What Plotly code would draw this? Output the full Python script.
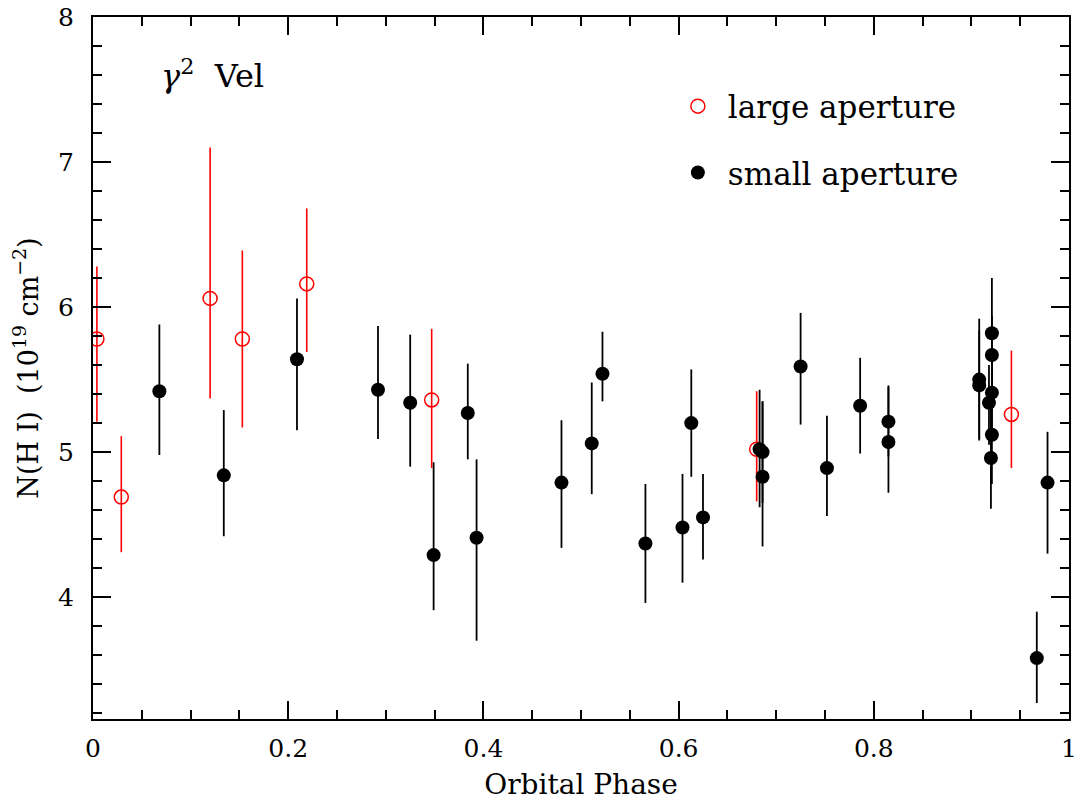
import plotly.graph_objects as go

# ---- data ----
large_phase = [0.004, 0.029, 0.120, 0.153, 0.219, 0.347, 0.680, 0.941]
large_nhi   = [5.78, 4.69, 6.06, 5.78, 6.16, 5.36, 5.02, 5.26]
large_errp  = [0.50, 0.42, 1.04, 0.61, 0.52, 0.49, 0.40, 0.44]
large_errm  = [0.57, 0.38, 0.69, 0.61, 0.47, 0.47, 0.36, 0.37]

small_phase = [0.068, 0.134, 0.209, 0.292, 0.325, 0.349, 0.384, 0.393, 0.480,
               0.511, 0.522, 0.566, 0.604, 0.613, 0.625, 0.683, 0.686, 0.686,
               0.725, 0.752, 0.786, 0.815, 0.815, 0.908, 0.908, 0.918, 0.920,
               0.921, 0.921, 0.921, 0.921, 0.967, 0.978]
small_nhi   = [5.42, 4.84, 5.64, 5.43, 5.34, 4.29, 5.27, 4.41, 4.79,
               5.06, 5.54, 4.37, 4.48, 5.20, 4.55, 5.02, 5.00, 4.83,
               5.59, 4.89, 5.32, 5.21, 5.07, 5.50, 5.46, 5.34, 4.96,
               5.82, 5.12, 5.67, 5.41, 3.58, 4.79]
small_errp  = [0.46, 0.45, 0.42, 0.44, 0.47, 0.64, 0.34, 0.54, 0.43,
               0.42, 0.29, 0.41, 0.37, 0.37, 0.30, 0.41, 0.35, 0.52,
               0.37, 0.36, 0.33, 0.25, 0.38, 0.42, 0.38, 0.26, 0.34,
               0.38, 0.33, 0.27, 0.31, 0.32, 0.35]
small_errm  = [0.44, 0.42, 0.49, 0.34, 0.44, 0.38, 0.32, 0.71, 0.45,
               0.35, 0.19, 0.41, 0.38, 0.37, 0.29, 0.40, 0.35, 0.48,
               0.40, 0.33, 0.33, 0.24, 0.35, 0.42, 0.37, 0.29, 0.35,
               0.37, 0.34, 0.29, 0.31, 0.31, 0.49]

x_tickvals = [0, 0.2, 0.4, 0.6, 0.8, 1.0]
x_ticktext = ["0", "0.2", "0.4", "0.6", "0.8", "1"]

FONT = "DejaVu Serif"
RED = "#ff0000"

fig = go.Figure()

fig.add_trace(go.Scatter(
    x=large_phase, y=large_nhi, mode="markers", name="large aperture",
    legendgroup="a",
    marker=dict(symbol="circle-open", size=14, color=RED, line=dict(width=1.5, color=RED)),
    error_y=dict(type="data", symmetric=False, array=large_errp, arrayminus=large_errm,
                 color=RED, thickness=1.6, width=0),
))
fig.add_trace(go.Scatter(
    x=small_phase, y=small_nhi, mode="markers", name="small aperture",
    legendgroup="b",
    marker=dict(symbol="circle", size=14, color="black", line=dict(width=0)),
    error_y=dict(type="data", symmetric=False, array=small_errp, arrayminus=small_errm,
                 color="black", thickness=1.8, width=0),
))

axis_common = dict(
    showline=True, linewidth=2, linecolor="black", mirror="ticks",
    ticks="inside", tickwidth=1.5, tickcolor="black", showgrid=False, zeroline=False,
    tickfont=dict(family=FONT, size=25, color="black"),
    ticklabeloverflow="allow",
)

fig.update_xaxes(
    range=[0, 1], tickvals=x_tickvals, ticktext=x_ticktext, ticklen=18,
    minor=dict(ticks="inside", dtick=0.05, tick0=0, ticklen=9, tickwidth=1.5,
               tickcolor="black", showgrid=False),
    title=dict(text="Orbital Phase", font=dict(family=FONT, size=28, color="black"), standoff=12),
    ticklabelstandoff=6,
    **axis_common,
)
fig.update_yaxes(
    range=[3.16, 8], dtick=1, tick0=0, ticklen=18,
    minor=dict(ticks="inside", dtick=0.2, tick0=0, ticklen=9, tickwidth=1.5,
               tickcolor="black", showgrid=False),
    title=dict(text="N(H I)  (10<sup>19</sup> cm<sup>−2</sup>)",
               font=dict(family=FONT, size=27, color="black"), standoff=12),
    ticklabelstandoff=12,
    **axis_common,
)

fig.add_annotation(
    xref="paper", yref="paper", x=0.068, y=0.919, xanchor="left", yanchor="middle",
    text="<i>γ</i><sup>2</sup>  Vel", showarrow=False,
    font=dict(family=FONT, size=32, color="black"),
)

fig.update_layout(
    width=1080, height=803,
    margin=dict(l=93, r=11, t=17, b=84, autoexpand=False),
    paper_bgcolor="white", plot_bgcolor="white",
    font=dict(family=FONT, color="black"),
    showlegend=True,
    legend=dict(
        x=0.589, y=0.911, xanchor="left", yanchor="top",
        font=dict(family=FONT, size=31, color="black"),
        itemwidth=50, traceorder="grouped", tracegroupgap=23,
        bgcolor="rgba(0,0,0,0)", borderwidth=0,
    ),
)

# remove the page's default body margin so the figure fills the window exactly
fig.write_html("out.html", config={"displayModeBar": False},
               post_script="document.body.style.margin='0';")
